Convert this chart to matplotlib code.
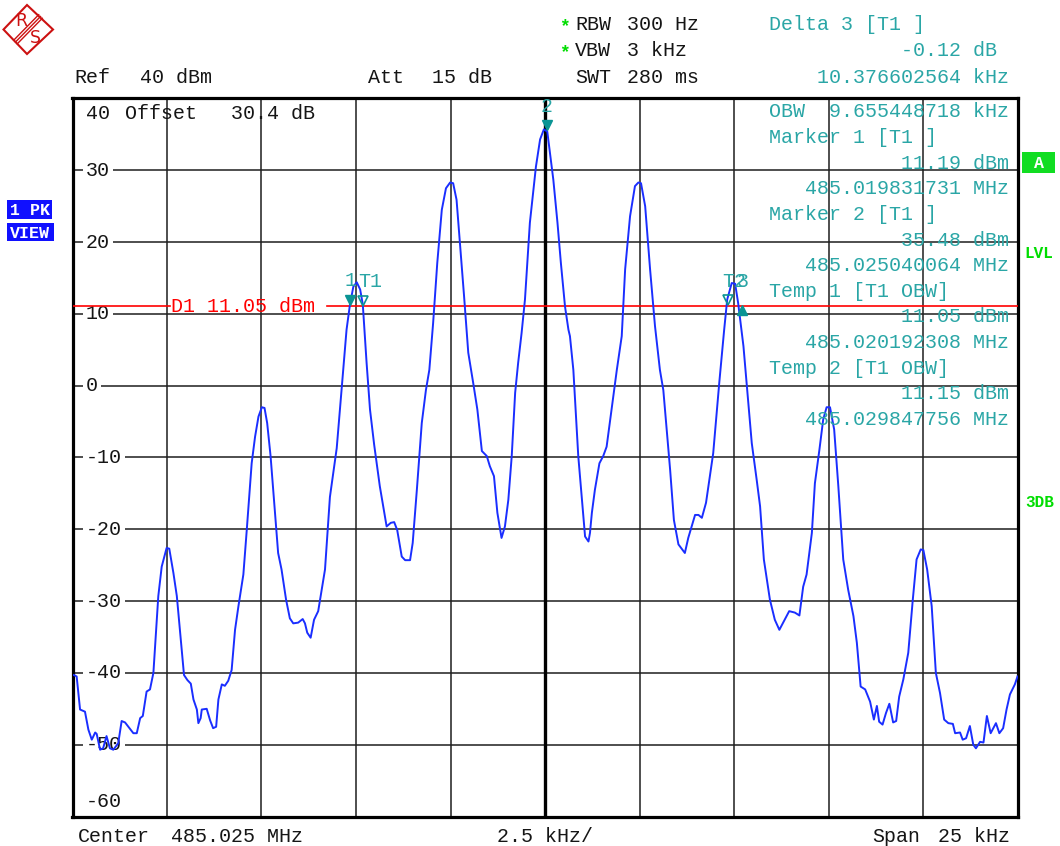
import matplotlib
matplotlib.use("Agg")
import matplotlib.pyplot as plt
import numpy as np
from matplotlib.patches import Polygon, Rectangle
from matplotlib.transforms import ScaledTranslation

# ---------------------------------------------------------------------------
# Trace: frequency offset from center (kHz), level (dBm)
# ---------------------------------------------------------------------------
freq_khz = [
    -12.50, -12.46, -12.39, -12.30, -12.17, -12.08, -11.99, -11.90, -11.86, -11.77,
    -11.69, -11.60, -11.51, -11.42, -11.29, -11.20, -11.11, -10.89, -10.80, -10.71,
    -10.64, -10.54, -10.45, -10.36, -10.23, -10.14, -10.01, -9.94, -9.83, -9.74,
    -9.66, -9.55, -9.46, -9.37, -9.30, -9.21, -9.17, -9.11, -9.08, -8.95,
    -8.86, -8.78, -8.70, -8.64, -8.55, -8.47, -8.38, -8.29, -8.20, -8.11,
    -7.98, -7.89, -7.76, -7.67, -7.58, -7.49, -7.42, -7.35, -7.26, -7.17,
    -7.06, -6.97, -6.85, -6.75, -6.66, -6.53, -6.41, -6.35, -6.29, -6.20,
    -6.11, -6.00, -5.82, -5.69, -5.51, -5.34, -5.25, -5.16, -5.07, -4.98,
    -4.89, -4.82, -4.72, -4.63, -4.52, -4.37, -4.19, -4.08, -3.99, -3.91,
    -3.79, -3.70, -3.57, -3.50, -3.39, -3.26, -3.15, -3.06, -2.96, -2.85,
    -2.73, -2.62, -2.51, -2.43, -2.34, -2.25, -2.14, -2.03, -1.90, -1.79,
    -1.67, -1.54, -1.46, -1.35, -1.26, -1.15, -1.06, -0.97, -0.88, -0.79,
    -0.71, -0.62, -0.53, -0.40, -0.24, -0.13, -0.03, 0.06, 0.22, 0.33,
    0.42, 0.53, 0.62, 0.66, 0.75, 0.88, 0.97, 1.06, 1.15, 1.19,
    1.24, 1.32, 1.44, 1.54, 1.63, 1.76, 1.90, 2.03, 2.12, 2.25,
    2.38, 2.47, 2.54, 2.65, 2.78, 2.91, 3.04, 3.13, 3.22, 3.31,
    3.41, 3.53, 3.70, 3.79, 3.97, 4.06, 4.15, 4.26, 4.45, 4.61,
    4.74, 4.82, 4.94, 5.03, 5.11, 5.25, 5.38, 5.47, 5.60, 5.69,
    5.79, 5.95, 6.08, 6.20, 6.30, 6.46, 6.61, 6.73, 6.83, 6.92,
    7.06, 7.14, 7.26, 7.36, 7.45, 7.54, 7.65, 7.76, 7.89, 8.02,
    8.16, 8.25, 8.35, 8.47, 8.60, 8.70, 8.78, 8.84, 8.93, 9.02,
    9.11, 9.21, 9.29, 9.37, 9.48, 9.61, 9.73, 9.83, 9.94, 10.01,
    10.11, 10.23, 10.34, 10.45, 10.56, 10.67, 10.79, 10.85, 10.98, 11.05,
    11.14, 11.24, 11.33, 11.40, 11.51, 11.60, 11.69, 11.79, 11.93, 12.02,
    12.12, 12.21, 12.30, 12.43, 12.50,
]
level_dbm = [
    -40.3, -40.3, -40.5, -45.1, -45.4, -47.9, -49.3, -48.3, -48.5, -50.7,
    -50.5, -48.8, -50.5, -50.7, -49.8, -46.7, -46.9, -48.4, -48.4, -46.3,
    -46.0, -42.6, -42.3, -40.0, -29.3, -25.2, -22.6, -22.7, -26.1, -29.3,
    -34.0, -40.3, -41.0, -41.5, -43.7, -45.1, -47.0, -46.3, -45.1, -45.0,
    -46.6, -47.7, -47.5, -43.7, -41.6, -41.8, -41.1, -39.6, -34.0, -30.7,
    -26.3, -20.1, -10.8, -7.1, -4.3, -3.0, -3.1, -5.2, -9.8, -15.9,
    -23.3, -25.6, -29.8, -32.4, -33.1, -33.0, -32.5, -33.1, -34.4, -35.1,
    -32.6, -31.4, -25.6, -15.5, -8.7, 2.2, 7.8, 11.3, 13.8, 14.4,
    13.4, 11.3, 3.2, -3.3, -8.2, -14.0, -19.6, -19.1, -19.0, -20.1,
    -23.8, -24.3, -24.3, -21.9, -14.5, -5.2, -0.6, 2.2, 8.7, 17.1,
    24.5, 27.5, 28.3, 28.2, 25.9, 19.9, 12.4, 4.6, 0.4, -3.3,
    -9.1, -9.8, -11.2, -12.6, -17.7, -21.2, -19.6, -15.9, -9.8, -1.0,
    3.2, 7.3, 12.0, 22.7, 30.5, 34.3, 35.7, 35.4, 28.7, 22.7,
    17.1, 11.0, 7.8, 6.9, 2.2, -9.8, -15.4, -21.0, -21.7, -20.5,
    -17.7, -14.5, -10.8, -9.8, -8.5, -3.3, 2.2, 6.9, 16.2, 23.6,
    27.8, 28.3, 28.2, 25.0, 16.2, 8.3, 2.2, -0.6, -6.1, -11.7,
    -18.7, -22.1, -23.3, -21.2, -18.0, -18.0, -18.4, -16.3, -9.4, 0.4,
    7.8, 12.0, 14.3, 14.2, 11.5, 5.5, -2.4, -8.0, -13.1, -16.8,
    -24.2, -29.8, -32.6, -34.0, -33.0, -31.4, -31.6, -32.0, -28.0, -26.3,
    -20.5, -13.6, -8.9, -4.7, -3.0, -3.0, -6.1, -14.0, -24.2, -28.4,
    -32.1, -35.8, -41.9, -42.3, -44.0, -46.5, -44.6, -46.8, -47.2, -45.6,
    -44.3, -46.9, -46.7, -43.3, -40.9, -37.2, -29.8, -24.2, -22.8, -22.9,
    -25.6, -30.7, -40.0, -42.8, -46.5, -47.0, -47.1, -48.4, -48.3, -49.3,
    -49.1, -47.4, -50.0, -50.5, -49.6, -49.7, -46.0, -48.4, -47.0, -48.4,
    -47.7, -45.1, -43.0, -41.6, -40.5,
]

# instrument settings
center_mhz = 485.025
span_khz = 25.0
ref_dbm = 40
bottom_dbm = -60
y_labels = [30, 20, 10, 0, -10, -20, -30, -40, -50]
d1_dbm = 11.05

# markers
m1_mhz, m1_dbm = 485.019831731, 11.19
m2_mhz, m2_dbm = 485.025040064, 35.48
d3_khz, d3_db = 10.376602564, -0.12
t1_mhz, t1_dbm = 485.020192308, 11.05
t2_mhz, t2_dbm = 485.029847756, 11.15
obw_khz = 9.655448718

TEAL = "#2aa6a6"
TEAL_DARK = "#0a9494"
BLUE = "#1a2eff"
GREEN = "#00dd00"
INK = "#151515"

plt.rcParams["font.family"] = ["Liberation Mono", "DejaVu Sans Mono"]
FS = 14.4

W, H = 1060, 846
fig = plt.figure(figsize=(W / 100, H / 100), dpi=100)
fig.patch.set_facecolor("white")

# main graticule
ax = fig.add_axes([72.5 / W, 1 - 816.5 / H, 945 / W, 718 / H])
ax.set_xlim(-span_khz / 2, span_khz / 2)
ax.set_ylim(bottom_dbm, ref_dbm)
ax.set_xticks(np.linspace(-span_khz / 2, span_khz / 2, 11))
ax.set_yticks(np.arange(bottom_dbm, ref_dbm + 1, 10))
ax.tick_params(length=0, labelbottom=False, labelleft=False)
ax.set_axisbelow(True)
ax.grid(True, color="#1e1e1e", lw=1.1)
for s in ax.spines.values():
    s.set_linewidth(2.3)
    s.set_color("black")
ax.axvline(0, color="black", lw=2.4, zorder=1)

# level labels inside the grid (white background breaks the grid line)
lab_tr = ax.get_yaxis_transform() + ScaledTranslation(0, -5.5 / 100, fig.dpi_scale_trans)
for v in y_labels:
    ax.text(13.5 / 945, v, str(v), transform=lab_tr, fontsize=FS, color=INK,
            ha="left", va="baseline", zorder=2,
            bbox=dict(facecolor="white", edgecolor="none", pad=2.2))

# display line D1
ax.axhline(d1_dbm, xmin=0, xmax=(170 - 72.5) / 945, color="red", lw=1.2, zorder=3)
ax.axhline(d1_dbm, xmin=(327 - 72.5) / 945, xmax=1, color="red", lw=1.2, zorder=3)

# trace
ax.plot(freq_khz, level_dbm, color=BLUE, lw=1.4, zorder=4)

# markers
m1_k = (m1_mhz - center_mhz) * 1000
m2_k = (m2_mhz - center_mhz) * 1000
d3_k = m1_k + d3_khz
d3_lvl = m1_dbm + d3_db
t1_k = (t1_mhz - center_mhz) * 1000
t2_k = (t2_mhz - center_mhz) * 1000

down = ax.transData + ScaledTranslation(0, 5.5 / 100, fig.dpi_scale_trans)
up = ax.transData + ScaledTranslation(0, -4.0 / 100, fig.dpi_scale_trans)
ax.plot([m1_k, m2_k], [m1_dbm, m2_dbm], "v", ms=7.2, color=TEAL_DARK,
        transform=down, zorder=5, clip_on=False)
ax.plot([t1_k, t2_k], [t1_dbm, t2_dbm], "v", ms=7.0, mfc="none", mec=TEAL_DARK,
        mew=1.2, transform=down, zorder=5, clip_on=False)
ax.plot([d3_k], [d3_lvl], "^", ms=6.5, color=TEAL_DARK, transform=up, zorder=5)

lbl_tr = ax.transData + ScaledTranslation(-5.5 / 100, 19 / 100, fig.dpi_scale_trans)
for name, fk, lv in [("1", m1_k, m1_dbm), ("2", m2_k, m2_dbm), ("T1", t1_k, t1_dbm),
                     ("T2", t2_k, t2_dbm), ("3", d3_k, d3_lvl)]:
    ax.text(fk, lv, name, transform=lbl_tr, fontsize=FS, color=TEAL,
            ha="left", va="baseline", zorder=6, clip_on=False)

# overlay in screen pixels for all annotation text
ov = fig.add_axes([0, 0, 1, 1], zorder=5)
ov.set_xlim(0, W)
ov.set_ylim(H, 0)
ov.axis("off")


def put(x, y, s, color=INK, size=FS, **kw):
    ov.text(x, y, s, color=color, fontsize=size, ha=kw.pop("ha", "left"),
            va="baseline", **kw)


# R&S logo
red = "#cc1111"
ov.add_patch(Polygon([(27, 5), (53, 29.5), (27, 54), (3.5, 29.5)], closed=True,
                     facecolor="white", edgecolor=red, lw=1.5))
for d in (-1.8, 0, 1.8):
    ov.plot([40.5 + d, 15.5 + d], [16.5 + d, 42 + d], color=red, lw=1.0)
ov.text(21, 21.5, "R", color=red, fontsize=12.5, family="DejaVu Sans",
        ha="center", va="center")
ov.text(35, 38, "S", color=red, fontsize=12.5, family="DejaVu Sans",
        ha="center", va="center")

# header
put(74, 83.3, "Ref")
put(140, 83.3, f"{ref_dbm} dBm")
put(368, 83.3, "Att")
put(432, 83.3, "15 dB")
put(559, 31, "*", color=GREEN, size=13, weight="bold")
put(559, 57.5, "*", color=GREEN, size=13, weight="bold")
put(575, 30, "RBW")
put(627, 30, "300 Hz")
put(575, 56.5, "VBW")
put(627, 56.5, "3 kHz")
put(575, 83.3, "SWT")
put(627, 83.3, "280 ms")

# inside top-left
put(86, 119.3, f"{ref_dbm}")
put(125.5, 119.3, "Offset")
put(231, 119.3, "30.4 dB")
put(86, 806.7, f"{bottom_dbm}")

# D1 label
put(171, 312.3, f"D1 {d1_dbm:.2f} dBm", color="red")

# marker info block
put(769, 30, "Delta 3 [T1 ]", color=TEAL)
put(769, 56.5, f"{d3_db:>16.2f} dB", color=TEAL)
put(769, 83.3, f"{d3_khz:>16.9f} kHz", color=TEAL)
info = [
    f"OBW {obw_khz:>12.9f} kHz",
    "Marker 1 [T1 ]",
    f"{m1_dbm:>16.2f} dBm",
    f"{m1_mhz:>16.9f} MHz",
    "Marker 2 [T1 ]",
    f"{m2_dbm:>16.2f} dBm",
    f"{m2_mhz:>16.9f} MHz",
    "Temp 1 [T1 OBW]",
    f"{t1_dbm:>16.2f} dBm",
    f"{t1_mhz:>16.9f} MHz",
    "Temp 2 [T1 OBW]",
    f"{t2_dbm:>16.2f} dBm",
    f"{t2_mhz:>16.9f} MHz",
]
for i, s in enumerate(info):
    put(769, 117.3 + 25.65 * i, s, color=TEAL)

# footer
put(77.7, 842.3, "Center")
put(170.7, 842.3, f"{center_mhz:.3f} MHz")
put(497, 842.3, f"{span_khz / 10:.1f} kHz/")
put(872, 842.3, "Span")
put(1010, 842.3, f"{span_khz:.0f} kHz", ha="right")

# side annotations
ov.add_patch(Rectangle((7, 200), 45, 19, facecolor="#1010ff", edgecolor="none"))
ov.add_patch(Rectangle((7, 223), 47, 18, facecolor="#1010ff", edgecolor="none"))
put(10, 215, "1 PK", color="white", size=12, weight="bold")
put(10, 237.7, "VIEW", color="white", size=12, weight="bold")
ov.add_patch(Rectangle((1022, 152.3), 33, 20.4, facecolor="#11dd22", edgecolor="none"))
put(1038.5, 167.5, "A", color="white", size=12, weight="bold", ha="center")
put(1024, 258, "LVL", color=GREEN, size=11.5, weight="bold")
put(1025, 507, "3DB", color=GREEN, size=11.5, weight="bold")

fig.savefig("out.png", dpi=100, facecolor="white")
